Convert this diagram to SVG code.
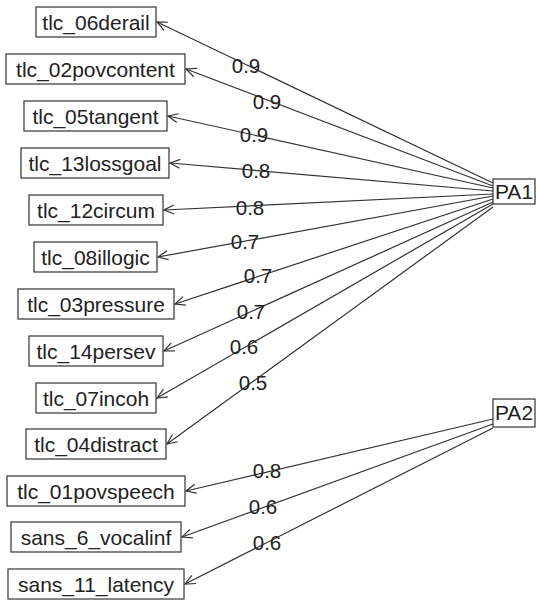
<svg xmlns="http://www.w3.org/2000/svg" width="537" height="603" viewBox="0 0 537 603">
<defs>
<marker id="arr" markerUnits="userSpaceOnUse" markerWidth="14" markerHeight="12" viewBox="-1 -6 14 12" refX="0" refY="0" orient="auto">
<path d="M10,-4.5 L0,0 L10,4.5" fill="none" stroke="#333" stroke-width="1.2"/>
</marker>
</defs>
<style>
rect{fill:#fff;stroke:#333;stroke-width:1.2}
text{font-family:"Liberation Sans",Arial,sans-serif;fill:#222}
.v{font-size:21px;text-anchor:middle}
.f{font-size:21px;text-anchor:middle}
.l{font-size:20.5px;text-anchor:middle}
#edges line{stroke:#333;stroke-width:1.2;marker-start:url(#arr)}
</style>
<rect x="0" y="0" width="537" height="603" style="fill:#fff;stroke:none"/>
<g id="edges">
<line x1="157" y1="22" x2="493" y2="183"/>
<line x1="186" y1="69" x2="493" y2="186"/>
<line x1="168" y1="116" x2="493" y2="188"/>
<line x1="170" y1="163" x2="493" y2="191"/>
<line x1="164" y1="210" x2="493" y2="194"/>
<line x1="158" y1="257" x2="493" y2="196"/>
<line x1="175" y1="304" x2="493" y2="199"/>
<line x1="164" y1="351" x2="493" y2="202"/>
<line x1="157" y1="398" x2="493" y2="204"/>
<line x1="167" y1="444" x2="493" y2="207"/>
<line x1="186" y1="491" x2="493" y2="419"/>
<line x1="182" y1="537" x2="493" y2="424"/>
<line x1="185" y1="584" x2="493" y2="428"/>
</g>
<g id="labels">
<text class="l" x="246" y="73">0.9</text>
<text class="l" x="267" y="109">0.9</text>
<text class="l" x="254" y="142">0.9</text>
<text class="l" x="256" y="178">0.8</text>
<text class="l" x="250" y="215">0.8</text>
<text class="l" x="245" y="249">0.7</text>
<text class="l" x="258" y="283">0.7</text>
<text class="l" x="251" y="319">0.7</text>
<text class="l" x="244" y="354">0.6</text>
<text class="l" x="253" y="390">0.5</text>
<text class="l" x="267" y="478">0.8</text>
<text class="l" x="263" y="514">0.6</text>
<text class="l" x="267" y="550">0.6</text>
</g>
<g id="tlc_06derail"><rect x="36" y="7" width="120" height="30"/><text class="v" x="96" y="30">tlc_06derail</text></g>
<g id="tlc_02povcontent"><rect x="6" y="54" width="179" height="30"/><text class="v" x="95.5" y="77">tlc_02povcontent</text></g>
<g id="tlc_05tangent"><rect x="24" y="101" width="143" height="30"/><text class="v" x="95.5" y="124">tlc_05tangent</text></g>
<g id="tlc_13lossgoal"><rect x="21" y="148" width="148" height="30"/><text class="v" x="95" y="171">tlc_13lossgoal</text></g>
<g id="tlc_12circum"><rect x="29" y="195" width="134" height="30"/><text class="v" x="96" y="218">tlc_12circum</text></g>
<g id="tlc_08illogic"><rect x="34" y="242" width="123" height="30"/><text class="v" x="95.5" y="265">tlc_08illogic</text></g>
<g id="tlc_03pressure"><rect x="18" y="289" width="156" height="30"/><text class="v" x="96" y="312">tlc_03pressure</text></g>
<g id="tlc_14persev"><rect x="29" y="336" width="134" height="30"/><text class="v" x="96" y="359">tlc_14persev</text></g>
<g id="tlc_07incoh"><rect x="36" y="383" width="120" height="30"/><text class="v" x="96" y="406">tlc_07incoh</text></g>
<g id="tlc_04distract"><rect x="26" y="429" width="140" height="30"/><text class="v" x="96" y="452">tlc_04distract</text></g>
<g id="tlc_01povspeech"><rect x="7" y="476" width="178" height="30"/><text class="v" x="96" y="499">tlc_01povspeech</text></g>
<g id="sans_6_vocalinf"><rect x="11" y="522" width="170" height="30"/><text class="v" x="96" y="545">sans_6_vocalinf</text></g>
<g id="sans_11_latency"><rect x="8" y="569" width="176" height="30"/><text class="v" x="96" y="592">sans_11_latency</text></g>
<g id="PA1"><rect x="493" y="179" width="42" height="25"/><text class="f" x="514" y="199">PA1</text></g>
<g id="PA2"><rect x="493" y="399" width="42" height="28"/><text class="f" x="514" y="420">PA2</text></g>
</svg>
